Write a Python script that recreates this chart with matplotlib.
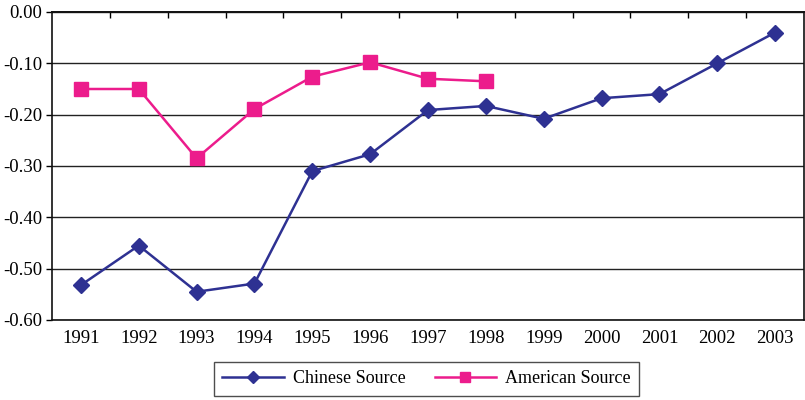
import numpy as np
import matplotlib.pyplot as plt

plt.rcParams['font.family'] = ['Liberation Serif', 'DejaVu Serif']

years = ['1991', '1992', '1993', '1994', '1995', '1996', '1997',
         '1998', '1999', '2000', '2001', '2002', '2003']
chinese = [-0.532, -0.455, -0.545, -0.529, -0.310, -0.277, -0.191,
           -0.183, -0.208, -0.168, -0.160, -0.100, -0.040]
american = [-0.150, -0.150, -0.285, -0.189, -0.126, -0.098, -0.130, -0.135]
yticks = [-0.6, -0.5, -0.4, -0.3, -0.2, -0.1, 0.0]
ylabels = ['-0.60', '-0.50', '-0.40', '-0.30', '-0.20', '-0.10', '0.00']

navy = '#2e3192'
pink = '#ec1c8c'

fig = plt.figure(figsize=(8.05, 4.0), dpi=100)
ax = fig.add_axes([52/805, 80/400, 752/805, 308/400])

x = np.arange(len(years))
ax.plot(x, chinese, color=navy, lw=1.8, marker='D', ms=8.5,
        label='Chinese Source', zorder=3)
ax.plot(x[:len(american)], american, color=pink, lw=1.8, marker='s', ms=9.5,
        label='American Source', zorder=3)

ax.set_xlim(-0.5, len(years) - 0.5)
ax.set_ylim(-0.6, 0.0)
ax.set_yticks(yticks)
ax.set_yticklabels(ylabels)
ax.yaxis.grid(True, color='#222222', lw=1.0)
ax.set_axisbelow(True)

# category labels along the bottom, boundary ticks on the zero line at top
ax.set_xticks(x)
ax.set_xticklabels(years)
ax.tick_params(axis='x', length=0, pad=7, labelsize=13.5)
ax.tick_params(axis='y', direction='out', length=4, width=1, pad=3, labelsize=13.5)
top = ax.secondary_xaxis('top')
top.set_xticks(np.arange(0.5, len(years) - 1, 1.0))
top.tick_params(axis='x', direction='in', length=4, width=1, labelsize=0)
top.set_xticklabels([])
top.spines['top'].set_linewidth(1.2)

for s in ax.spines.values():
    s.set_linewidth(1.2)
    s.set_color('#111111')

leg = ax.legend(loc='upper center', bbox_to_anchor=(0.498, -0.108), ncol=2,
                frameon=True, fancybox=False, edgecolor='#222222',
                fontsize=13, handlelength=3.4, columnspacing=1.6,
                markerscale=0.7, borderpad=0.45, handletextpad=0.5)
leg.get_frame().set_linewidth(1.0)

fig.savefig('out.png', dpi=100)
